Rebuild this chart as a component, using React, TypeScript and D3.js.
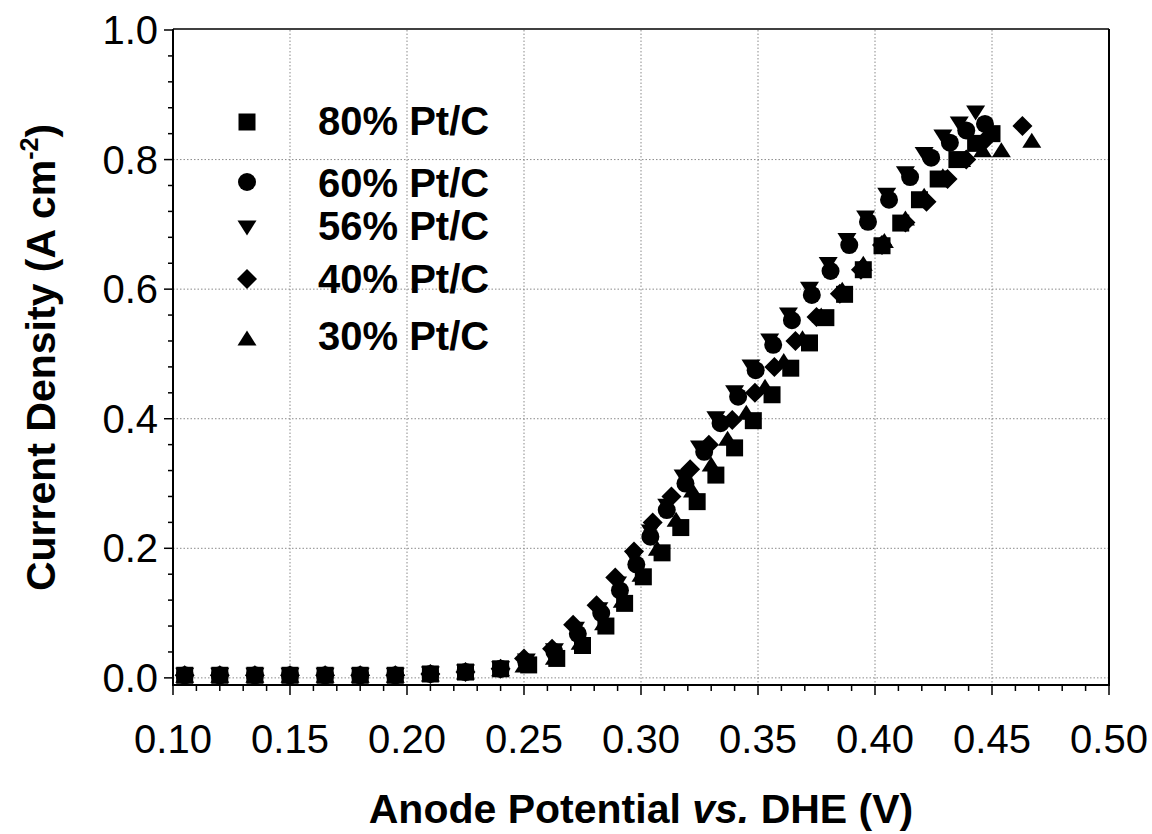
import React from "react";
import * as d3 from "d3";

// ---------- data ----------
const xTicks = [0.1, 0.15, 0.2, 0.25, 0.3, 0.35, 0.4, 0.45, 0.5];
const yTicks = [0.0, 0.2, 0.4, 0.6, 0.8, 1.0];

const seriesNames = ["80% Pt/C", "60% Pt/C", "56% Pt/C", "40% Pt/C", "30% Pt/C"];
const seriesShapes = ["square", "circle", "triDown", "diamond", "triUp"];

const lowV = [0.105, 0.12, 0.135, 0.15, 0.165, 0.18, 0.195, 0.21, 0.225, 0.24];
const lowJ = [0.004, 0.004, 0.004, 0.004, 0.004, 0.004, 0.004, 0.006, 0.009, 0.014];

const pt80V = [0.252, 0.264, 0.275, 0.285, 0.293, 0.301, 0.309, 0.317, 0.324, 0.332, 0.34, 0.348, 0.356, 0.364, 0.372, 0.379, 0.387, 0.395, 0.403, 0.411, 0.419, 0.427, 0.435, 0.443, 0.45];
const pt80J = [0.02, 0.03, 0.05, 0.08, 0.115, 0.156, 0.193, 0.232, 0.272, 0.313, 0.355, 0.397, 0.437, 0.478, 0.517, 0.556, 0.592, 0.63, 0.667, 0.702, 0.738, 0.77, 0.8, 0.825, 0.84];

const pt60V = [0.251, 0.263, 0.273, 0.283, 0.291, 0.298, 0.304, 0.311, 0.319, 0.327, 0.334, 0.3415, 0.349, 0.3565, 0.3645, 0.373, 0.381, 0.389, 0.397, 0.406, 0.415, 0.424, 0.432, 0.439, 0.447];
const pt60J = [0.024, 0.04, 0.068, 0.1, 0.135, 0.175, 0.218, 0.259, 0.3, 0.349, 0.393, 0.434, 0.475, 0.514, 0.552, 0.591, 0.628, 0.668, 0.704, 0.738, 0.773, 0.803, 0.826, 0.845, 0.855];

const pt56V = [0.251, 0.263, 0.272, 0.282, 0.29, 0.297, 0.304, 0.311, 0.318, 0.325, 0.332, 0.34, 0.347, 0.355, 0.363, 0.372, 0.38, 0.388, 0.396, 0.405, 0.413, 0.421, 0.429, 0.436, 0.443];
const pt56J = [0.026, 0.042, 0.075, 0.105, 0.145, 0.185, 0.225, 0.265, 0.31, 0.355, 0.4, 0.44, 0.48, 0.52, 0.56, 0.6, 0.638, 0.675, 0.71, 0.745, 0.778, 0.808, 0.835, 0.855, 0.872];

const pt40V = [0.25, 0.262, 0.271, 0.281, 0.289, 0.297, 0.305, 0.313, 0.321, 0.329, 0.339, 0.3487, 0.357, 0.366, 0.375, 0.385, 0.394, 0.403, 0.413, 0.422, 0.431, 0.439, 0.447, 0.463];
const pt40J = [0.03, 0.045, 0.082, 0.112, 0.155, 0.195, 0.24, 0.28, 0.322, 0.36, 0.398, 0.44, 0.48, 0.52, 0.557, 0.593, 0.63, 0.668, 0.703, 0.735, 0.77, 0.8, 0.83, 0.852];

const pt30V = [0.25, 0.263, 0.274, 0.284, 0.292, 0.3, 0.307, 0.315, 0.322, 0.33, 0.337, 0.345, 0.353, 0.361, 0.369, 0.377, 0.386, 0.395, 0.404, 0.413, 0.421, 0.429, 0.437, 0.446, 0.454, 0.467];
const pt30J = [0.02, 0.032, 0.055, 0.085, 0.12, 0.16, 0.2, 0.245, 0.29, 0.33, 0.37, 0.41, 0.45, 0.49, 0.525, 0.56, 0.6, 0.64, 0.675, 0.71, 0.745, 0.775, 0.8, 0.815, 0.815, 0.83];

const seriesV = [pt80V, pt60V, pt56V, pt40V, pt30V];
const seriesJ = [pt80J, pt60J, pt56J, pt40J, pt30J];

// ---------- layout ----------
const W = 1152;
const H = 834;
const left = 173;
const right = 1109;
const top = 30;
const bottom = 685;

const legendMarkerX = 247;
const legendMarkerY = [122, 182, 228, 279, 338];
const legendTextX = 318;
const legendTextY = [135, 197, 240, 293, 350];

function markerPath(shape: string, cx: number, cy: number): string {
  switch (shape) {
    case "square": {
      const s = 8.5;
      return `M${cx - s},${cy - s}h${2 * s}v${2 * s}h${-2 * s}Z`;
    }
    case "circle": {
      const r = 9;
      return `M${cx - r},${cy}a${r},${r} 0 1,0 ${2 * r},0a${r},${r} 0 1,0 ${-2 * r},0Z`;
    }
    case "triDown": {
      const w = 9.5, h = 7.5;
      return `M${cx - w},${cy - h}L${cx + w},${cy - h}L${cx},${cy + h}Z`;
    }
    case "triUp": {
      const w = 9.5, h = 7.5;
      return `M${cx - w},${cy + h}L${cx + w},${cy + h}L${cx},${cy - h}Z`;
    }
    case "diamond": {
      const d = 10;
      return `M${cx},${cy - d}L${cx + d},${cy}L${cx},${cy + d}L${cx - d},${cy}Z`;
    }
  }
  return "";
}

export default function App() {
  const x = d3.scaleLinear().domain([0.1, 0.5]).range([left, right]);
  const y = d3.scaleLinear().domain([-0.011, 1.0]).range([bottom, top]);

  const xMinor = d3.range(0, 41).map((i) => 0.1 + i * 0.01);
  const yMinor = d3.range(0, 26).map((i) => i * 0.04);

  const font = "Arial, 'Liberation Sans', Helvetica, sans-serif";

  return (
    <svg
      width={W}
      height={H}
      viewBox={`0 0 ${W} ${H}`}
      style={{ position: "absolute", left: 0, top: 0, background: "#fff" }}
      fontFamily={font}
    >
      <rect x={0} y={0} width={W} height={H} fill="#fff" />
      {/* grid */}
      <g stroke="#8a8a8a" strokeWidth={1} strokeDasharray="1.5,2">
        {xTicks.slice(1, -1).map((t) => (
          <line key={"gx" + t} x1={x(t)} x2={x(t)} y1={top} y2={bottom} />
        ))}
        {yTicks.slice(0, -1).map((t) => (
          <line key={"gy" + t} x1={left} x2={right} y1={y(t)} y2={y(t)} />
        ))}
      </g>

      {/* data */}
      {seriesV.map((vs, si) => {
        const allV = lowV.concat(vs);
        const allJ = lowJ.concat(seriesJ[si]);
        return (
          <g key={"s" + si} fill="#000">
            {allV.map((v, i) => (
              <path key={i} d={markerPath(seriesShapes[si], x(v), y(allJ[i]))} />
            ))}
          </g>
        );
      })}

      {/* frame */}
      <g stroke="#000" fill="none">
        <line x1={left} x2={right} y1={top - 1} y2={top - 1} strokeWidth={1.5} />
        <line x1={right} x2={right} y1={top - 1} y2={bottom} strokeWidth={2} />
        <line x1={left} x2={left} y1={top - 1} y2={bottom + 1} strokeWidth={2} />
        <line x1={left - 1} x2={right + 1} y1={bottom} y2={bottom} strokeWidth={2} />
      </g>

      {/* ticks */}
      <g stroke="#000" strokeWidth={1.5}>
        {xMinor.map((t, i) => (
          <line
            key={"xt" + i}
            x1={x(t)}
            x2={x(t)}
            y1={bottom}
            y2={bottom + (i % 5 === 0 ? 10 : 6)}
          />
        ))}
        {yMinor.map((t, i) => (
          <line
            key={"yt" + i}
            x1={left - (i % 5 === 0 ? 9 : 5)}
            x2={left}
            y1={y(t)}
            y2={y(t)}
          />
        ))}
      </g>

      {/* tick labels */}
      <g fontSize={40} fill="#000">
        {xTicks.map((t) => (
          <text key={"xl" + t} x={x(t)} y={753} textAnchor="middle">
            {d3.format(".2f")(t)}
          </text>
        ))}
        {yTicks.map((t) => (
          <text key={"yl" + t} x={158} y={y(t) + 14} textAnchor="end">
            {d3.format(".1f")(t)}
          </text>
        ))}
      </g>

      {/* axis titles */}
      <text x={(left + right) / 2} y={823} textAnchor="middle" fontSize={41} fontWeight="bold">
        Anode Potential <tspan fontStyle="italic">vs.</tspan> DHE (V)
      </text>
      <text
        transform={`translate(55,${(top + bottom) / 2}) rotate(-90)`}
        textAnchor="middle"
        fontSize={41}
        fontWeight="bold"
      >
        Current Density (A cm
        <tspan fontSize={25} dy={-17}>-2</tspan>
        <tspan dy={17}>)</tspan>
      </text>

      {/* legend */}
      {seriesNames.map((name, i) => (
        <g key={"lg" + i}>
          <path d={markerPath(seriesShapes[i], legendMarkerX, legendMarkerY[i])} fill="#000" />
          <text x={legendTextX} y={legendTextY[i]} fontSize={40} fontWeight="bold">
            {name}
          </text>
        </g>
      ))}
    </svg>
  );
}
